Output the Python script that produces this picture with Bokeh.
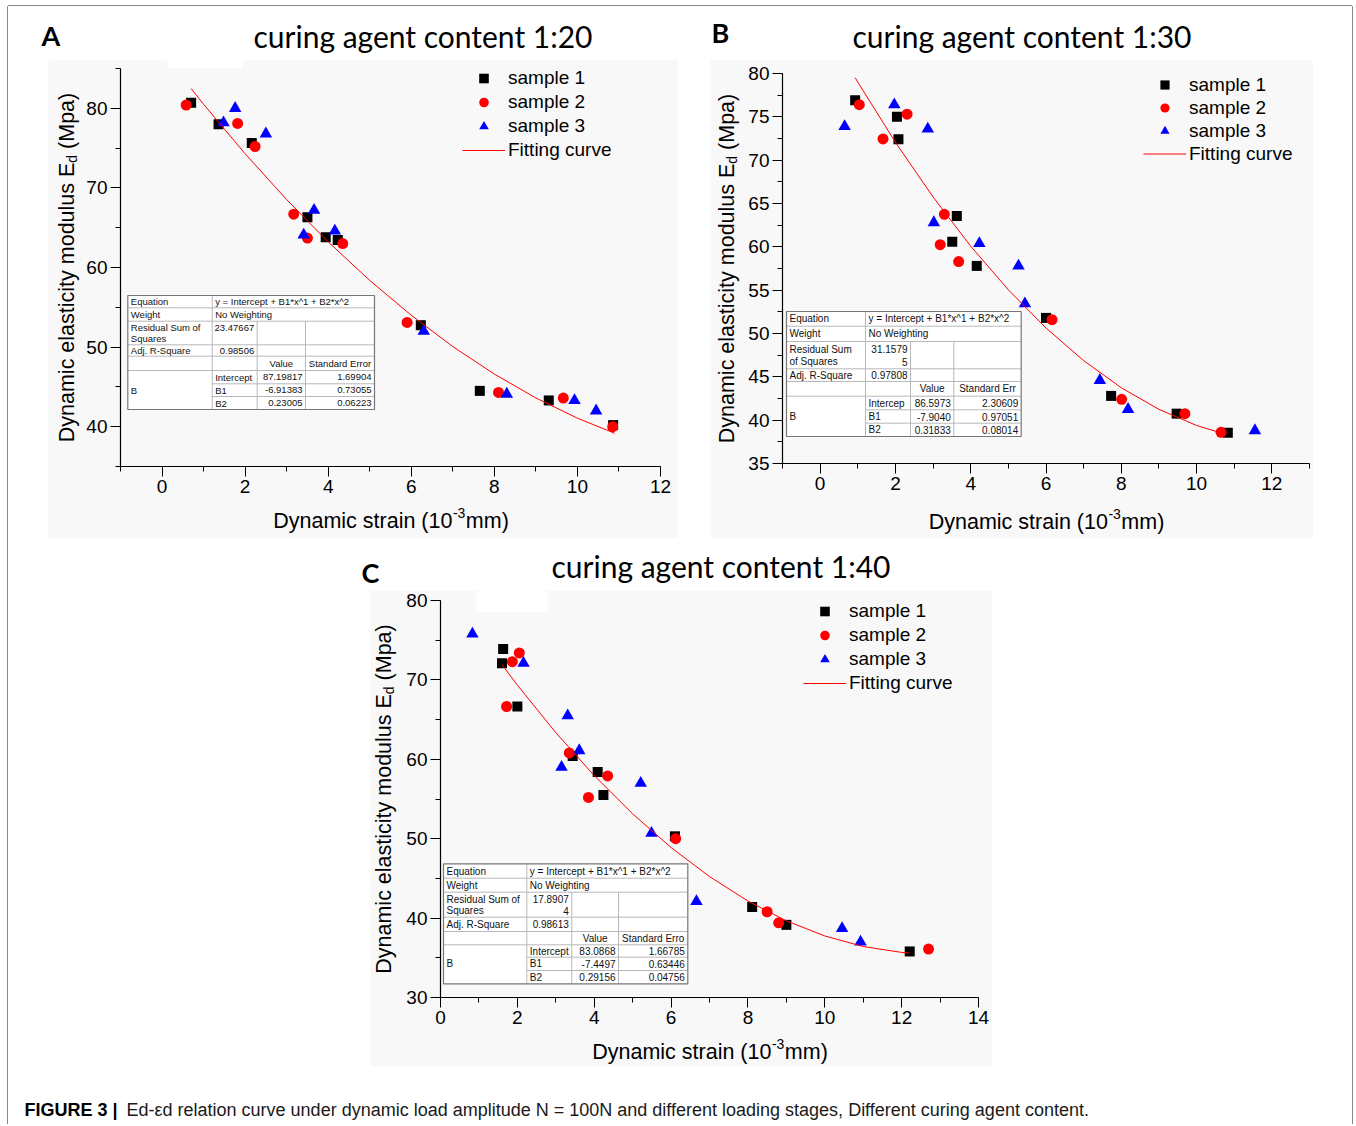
from bokeh.plotting import figure
from bokeh.models import (Range1d, SingleIntervalTicker, Legend, LegendItem, Label, Spacer,
                          LinearAxis)
from bokeh.layouts import column, row
from bokeh.embed import file_html
from bokeh.resources import INLINE
from bokeh.core.properties import value

# ---------------- data: panel A (curing agent content 1:20) ----------------
a_s1_x = [0.70, 1.36, 2.16, 3.50, 3.94, 4.23, 6.23, 7.65, 9.31, 10.86]
a_s1_y = [80.7, 78.0, 75.65, 66.3, 63.8, 63.45, 52.75, 44.5, 43.3, 40.2]
a_s2_x = [0.58, 1.82, 2.24, 3.17, 3.50, 4.35, 5.90, 8.10, 9.66, 10.85]
a_s2_y = [80.4, 78.1, 75.2, 66.7, 63.7, 63.0, 53.1, 44.3, 43.6, 40.0]
a_s3_x = [1.48, 1.76, 2.50, 3.41, 3.66, 4.16, 6.30, 8.30, 9.93, 10.45]
a_s3_y = [78.2, 80.0, 76.8, 64.1, 67.2, 64.6, 52.0, 44.1, 43.3, 42.0]
a_fit_x = [0.7, 1, 2, 3, 4, 5, 6, 7, 8, 9, 10, 10.9]
a_fit_y = [82.47, 80.51, 74.29, 68.53, 63.22, 58.38, 54.00, 50.07, 46.61, 43.61, 41.07, 39.17]

# ---------------- data: panel B (curing agent content 1:30) ----------------
b_s1_x = [0.93, 2.04, 2.08, 3.51, 3.63, 4.16, 6.00, 7.73, 9.47, 10.83]
b_s1_y = [76.9, 75.0, 72.4, 60.6, 63.55, 57.8, 51.8, 42.8, 40.75, 38.55]
b_s2_x = [1.04, 1.67, 2.31, 3.19, 3.30, 3.68, 6.16, 8.01, 9.69, 10.65]
b_s2_y = [76.4, 72.45, 75.3, 60.25, 63.75, 58.3, 51.6, 42.4, 40.75, 38.6]
b_s3_x = [0.65, 1.97, 2.86, 3.02, 4.23, 5.27, 5.44, 7.43, 8.18, 11.55]
b_s3_y = [73.9, 76.4, 73.6, 62.8, 60.4, 57.8, 53.45, 44.6, 41.25, 38.8]
b_fit_x = [0.93, 1, 2, 3, 4, 5, 6, 7, 8, 9, 10, 10.65]
b_fit_y = [79.52, 79.01, 72.06, 65.75, 60.07, 55.04, 50.63, 46.87, 43.74, 41.25, 39.39, 38.53]

# ---------------- data: panel C (curing agent content 1:40) ----------------
c_s1_x = [1.60, 1.63, 2.00, 3.44, 4.09, 4.24, 6.10, 8.11, 9.00, 12.21]
c_s1_y = [72.1, 73.9, 66.65, 60.4, 58.4, 55.5, 50.3, 41.4, 39.15, 35.8]
c_s2_x = [1.72, 1.87, 2.05, 3.35, 3.85, 4.35, 6.12, 8.50, 8.80, 12.70]
c_s2_y = [66.65, 72.3, 73.4, 60.8, 55.2, 57.9, 50.0, 40.8, 39.4, 36.1]
c_s3_x = [0.83, 2.16, 3.15, 3.31, 3.61, 5.21, 5.49, 6.66, 10.45, 10.93]
c_s3_y = [75.8, 72.1, 59.0, 65.5, 61.1, 57.0, 50.7, 42.1, 38.7, 37.0]
c_fit_x = [1.6, 2, 3, 4, 5, 6, 7, 8, 9, 10, 11, 12, 12.2]
c_fit_y = [71.91, 69.35, 63.36, 57.95, 53.13, 48.89, 45.23, 42.15, 39.66, 37.75, 36.42, 35.68, 35.60]

# ---------------- fit tables ----------------
tab_equation = "y = Intercept + B1*x^1 + B2*x^2"
tab_weight = "No Weighting"
a_rss_label = ["Residual Sum of", "Squares"]
a_rss_value = ["23.47667"]
a_adj = "0.98506"
a_err_head = "Standard Error"
a_names = ["Intercept", "B1", "B2"]
a_values = ["87.19817", "-6.91383", "0.23005"]
a_errors = ["1.69904", "0.73055", "0.06223"]

b_rss_label = ["Residual Sum", "of Squares"]
b_rss_value = ["31.1579", "5"]
b_adj = "0.97808"
b_err_head = "Standard Err"
b_names = ["Intercep", "B1", "B2"]
b_values = ["86.5973", "-7.9040", "0.31833"]
b_errors = ["2.30609", "0.97051", "0.08014"]

c_rss_label = ["Residual Sum of", "Squares"]
c_rss_value = ["17.8907", "4"]
c_adj = "0.98613"
c_err_head = "Standard Erro"
c_names = ["Intercept", "B1", "B2"]
c_values = ["83.0868", "-7.4497", "0.29156"]
c_errors = ["1.66785", "0.63446", "0.04756"]

series_names = ["sample 1", "sample 2", "sample 3", "Fitting curve"]
titles = ["curing agent content 1:20", "curing agent content 1:30", "curing agent content 1:40"]
caption_bold = "FIGURE 3 |"
caption_text = ("Ed-\u03b5d relation curve under dynamic load amplitude N = 100N and different "
                "loading stages, Different curing agent content.")

# ---------------- styling ----------------
PANEL_BG = "#f8f8f8"
FONT = "Liberation Sans"
TITLE_FONT = "Lato"


def draw_table(p, fx, fy, cols, rows, rss_label, rss_value, adj, err_head,
               names, values, errors, fs):
    X = [fx(c) for c in cols]
    Y = [fy(r) for r in rows]
    p.quad(left=[X[0]], right=[X[4]], top=[Y[0]], bottom=[Y[8]],
           fill_color="white", line_color=None)
    sx0, sy0, sx1, sy1 = [], [], [], []
    for i in range(1, 8):
        left = X[1] if i in (6, 7) else X[0]
        sx0.append(left); sx1.append(X[4]); sy0.append(Y[i]); sy1.append(Y[i])
    sx0 += [X[1], X[2], X[3]]
    sx1 += [X[1], X[2], X[3]]
    sy0 += [Y[0], Y[2], Y[2]]
    sy1 += [Y[8], Y[8], Y[8]]
    p.segment(x0=sx0, y0=sy0, x1=sx1, y1=sy1, line_color="#b8b8b8", line_width=1)
    p.quad(left=[X[0]], right=[X[4]], top=[Y[0]], bottom=[Y[8]],
           fill_color=None, line_color="#777777", line_width=1.2)

    def rc(i):
        return (rows[i] + rows[i + 1]) / 2.0
    h2 = rows[3] - rows[2]
    l2 = [rows[2] + 0.28 * h2, rows[2] + 0.74 * h2]
    left_t = [(cols[0] + 3, rc(0), "Equation"), (cols[1] + 3, rc(0), tab_equation),
              (cols[0] + 3, rc(1), "Weight"), (cols[1] + 3, rc(1), tab_weight),
              (cols[0] + 3, rc(3), "Adj. R-Square"), (cols[0] + 3, rc(6), "B")]
    for k, t in enumerate(rss_label):
        left_t.append((cols[0] + 3, l2[k], t))
    for k, t in enumerate(names):
        left_t.append((cols[1] + 3, rc(5 + k), t))
    right_t = [(cols[2] - 3, rc(3), adj)]
    for k, t in enumerate(rss_value):
        right_t.append((cols[2] - 3, l2[k], t))
    for k in range(3):
        right_t.append((cols[3] - 3, rc(5 + k), values[k]))
        right_t.append((cols[4] - 3, rc(5 + k), errors[k]))
    center_t = [((cols[2] + cols[3]) / 2, rc(4), "Value"),
                ((cols[3] + cols[4]) / 2, rc(4), err_head)]
    for items, al in ((left_t, "left"), (right_t, "right"), (center_t, "center")):
        p.text(x=[fx(a) for a, b, c in items], y=[fy(b) for a, b, c in items],
               text=[c for a, b, c in items], text_align=al, text_baseline="middle",
               text_font=value(FONT), text_font_size=fs, text_color="#111111")


def make_panel(gray, xr, xpx, yr, ypx, x_int, y_int,
               s1x, s1y, s2x, s2y, s3x, s3y, fitx, fity,
               table_geom, table_args, legend_geom, ylab_x, xlab_y, notch=None):
    gx0, gy0, gx1, gy1 = gray
    kx = (xpx[1] - xpx[0]) / (xr[1] - xr[0])
    ky = (ypx[0] - ypx[1]) / (yr[1] - yr[0])

    def fx(px):
        return xr[0] + (px - xpx[0]) / kx

    def fy(py):
        return yr[0] + (ypx[0] - py) / ky

    p = figure(width=gx1 - gx0, height=gy1 - gy0,
               x_range=Range1d(fx(gx0), fx(gx1)), y_range=Range1d(fy(gy1), fy(gy0)),
               output_backend="svg", toolbar_location=None, title=None,
               x_axis_location=None, y_axis_location=None, min_border=0,
               background_fill_color=PANEL_BG, border_fill_color=PANEL_BG,
               outline_line_color=None)
    p.grid.visible = False

    if notch is not None:
        nx0, ny0, nx1, ny1 = notch
        p.quad(left=[fx(nx0)], right=[fx(nx1)], top=[fy(ny0)], bottom=[fy(ny1)],
               fill_color="white", line_color=None)

    xaxis = LinearAxis(fixed_location=yr[0], bounds=xr)
    yaxis = LinearAxis(fixed_location=xr[0], bounds=yr)
    for ax, iv in ((xaxis, x_int), (yaxis, y_int)):
        ax.ticker = SingleIntervalTicker(interval=iv, num_minor_ticks=2)
        ax.axis_line_color = "black"
        ax.axis_line_width = 1.2
        ax.major_tick_line_color = "black"
        ax.major_tick_out = 10
        ax.major_tick_in = 0
        ax.minor_tick_line_color = "black"
        ax.minor_tick_out = 5
        ax.minor_tick_in = 0
        ax.major_label_text_font = FONT
        ax.major_label_text_font_size = "19px"
        ax.major_label_text_color = "black"
        ax.major_label_standoff = 3
    p.add_layout(xaxis, "below")
    p.add_layout(yaxis, "left")

    r1 = p.scatter(s1x, s1y, marker="square", size=10, fill_color="black", line_color=None)
    r2 = p.scatter(s2x, s2y, marker="circle", size=11, fill_color="#ff0000", line_color=None)
    r3 = p.scatter(s3x, s3y, marker="triangle", size=12.5, fill_color="#0000ff", line_color=None)
    rf = p.line(fitx, fity, line_color="#ff0000", line_width=1)

    cols, rows, fs = table_geom
    draw_table(p, fx, fy, cols, rows, *table_args, fs)

    gl_left, top_px, gh = legend_geom
    leg = Legend(items=[LegendItem(label=series_names[0], renderers=[r1]),
                        LegendItem(label=series_names[1], renderers=[r2]),
                        LegendItem(label=series_names[2], renderers=[r3]),
                        LegendItem(label=series_names[3], renderers=[rf])],
                 location=(gl_left - gx0, gy1 - (top_px + 4 * gh)),
                 glyph_width=43, glyph_height=gh, label_height=gh, spacing=0,
                 padding=0, margin=0, label_standoff=3,
                 border_line_color=None, background_fill_alpha=0,
                 label_text_font=FONT, label_text_font_size="19px",
                 label_text_color="black")
    p.add_layout(leg)

    # axis titles with sub/superscripts
    s = 21.5
    fs_main = "21.5px"
    fs_small = "14px"
    fw = (xpx[0] + xpx[1]) / 2.0
    fh = (ypx[0] + ypx[1]) / 2.0
    w1, ws, w3 = 8.335 * s, 0.889 * 14, 1.999 * s
    x_start = fw - (w1 + ws + w3) / 2
    for txt, px, dy, f in (("Dynamic strain (10", x_start, 0, fs_main),
                           ("-3", x_start + w1 + 0.5, -8, fs_small),
                           ("mm)", x_start + w1 + ws + 1, 0, fs_main)):
        p.add_layout(Label(x=fx(px), y=fy(xlab_y + dy), text=txt, text_font=FONT,
                           text_font_size=f, text_align="left", text_baseline="middle",
                           text_color="black"))
    v1, vs, vsp, v3 = 13.003 * s, 0.556 * 14, 0.278 * s, 2.611 * s
    y_bottom = fh + (v1 + vs + vsp + v3) / 2
    for txt, py, dx, f in (("Dynamic elasticity modulus E", y_bottom, 0, fs_main),
                           ("d", y_bottom - v1, 5, fs_small),
                           ("(Mpa)", y_bottom - v1 - vs - vsp, 0, fs_main)):
        p.add_layout(Label(x=fx(ylab_x + dx), y=fy(py), text=txt, text_font=FONT,
                           text_font_size=f, text_align="left", text_baseline="middle",
                           angle=90, angle_units="deg", text_color="black"))
    return p


pA = make_panel((48, 60, 678, 538), (-1, 12), (120, 660), (35, 85), (466, 68), 2, 10,
                a_s1_x, a_s1_y, a_s2_x, a_s2_y, a_s3_x, a_s3_y, a_fit_x, a_fit_y,
                ([127.3, 211.7, 256.7, 305, 374],
                 [295, 307.3, 320.7, 344.3, 355.7, 370, 383.3, 396, 409], "9.5px"),
                (a_rss_label, a_rss_value, a_adj, a_err_head, a_names, a_values, a_errors),
                (462, 66, 24), 66, 520, notch=(167, 60, 242, 67))

pB = make_panel((710, 60, 1313, 538), (-1, 13), (782, 1309), (35, 80), (463, 73), 2, 5,
                b_s1_x, b_s1_y, b_s2_x, b_s2_y, b_s3_x, b_s3_y, b_fit_x, b_fit_y,
                ([786, 865, 910, 953.3, 1020.7],
                 [311, 325.7, 341, 368.3, 381, 395.7, 409.3, 422.7, 436], "10px"),
                (b_rss_label, b_rss_value, b_adj, b_err_head, b_names, b_values, b_errors),
                (1143, 73, 23), 726, 521)

pC = make_panel((370, 590, 992, 1066), (0, 14), (440, 978), (30, 80), (997, 600), 2, 10,
                c_s1_x, c_s1_y, c_s2_x, c_s2_y, c_s3_x, c_s3_y, c_fit_x, c_fit_y,
                ([443, 526.3, 571.3, 618, 687.3],
                 [863.3, 877.7, 891.7, 916.7, 931, 944.3, 956.7, 970, 983.3], "10px"),
                (c_rss_label, c_rss_value, c_adj, c_err_head, c_names, c_values, c_errors),
                (803, 599, 24), 383, 1051, notch=(476, 590, 547, 611))


def make_strip(y0, height):
    s = figure(width=1344, height=height, x_range=Range1d(8, 1352),
               y_range=Range1d(-(y0 + height), -y0),
               output_backend="svg", toolbar_location=None, min_border=0, title=None,
               x_axis_location=None, y_axis_location=None,
               background_fill_color="white", border_fill_color="white",
               outline_line_color=None)
    s.grid.visible = False
    return s


def put(strip, x, baseline, text, font, size, align="left", bold=False, color="black"):
    # anchor compensation: Bokeh places the alphabetic anchor below the glyph baseline
    y = baseline - 0.4 * size
    strip.add_layout(Label(x=x, y=-y, text=text, text_font=font,
                           text_font_style="bold" if bold else "normal",
                           text_font_size="%gpx" % size, text_baseline="alphabetic",
                           text_align=align, text_color=color))


strip1 = make_strip(6, 54)
put(strip1, 41, 46, "A", TITLE_FONT, 27, bold=True)
put(strip1, 422.5, 47.5, titles[0], TITLE_FONT, 30, align="center")
put(strip1, 711, 43, "B", TITLE_FONT, 27, bold=True)
put(strip1, 1021.5, 47.5, titles[1], TITLE_FONT, 30, align="center")

strip2 = make_strip(538, 52)
put(strip2, 361, 583, "C", TITLE_FONT, 27, bold=True)
put(strip2, 720.5, 577, titles[2], TITLE_FONT, 30, align="center")

strip3 = make_strip(1066, 58)
put(strip3, 24, 1117, caption_bold, FONT, 18, bold=True)
put(strip3, 126, 1117, caption_text, FONT, 18, color="#1a1a1a")

row1 = row(Spacer(width=40, height=478), pA, Spacer(width=32, height=478), pB)
row2 = row(Spacer(width=362, height=476), pC)
inner = column(strip1, row1, strip2, row2, strip3,
               styles={"box-shadow": "-1px 0 0 0 #888888, 1px 0 0 0 #888888, 0 -1px 0 0 #888888"})
layout = column(Spacer(width=1352, height=6), row(Spacer(width=8, height=1118), inner))

open("out.html", "w").write(file_html(layout, INLINE))
